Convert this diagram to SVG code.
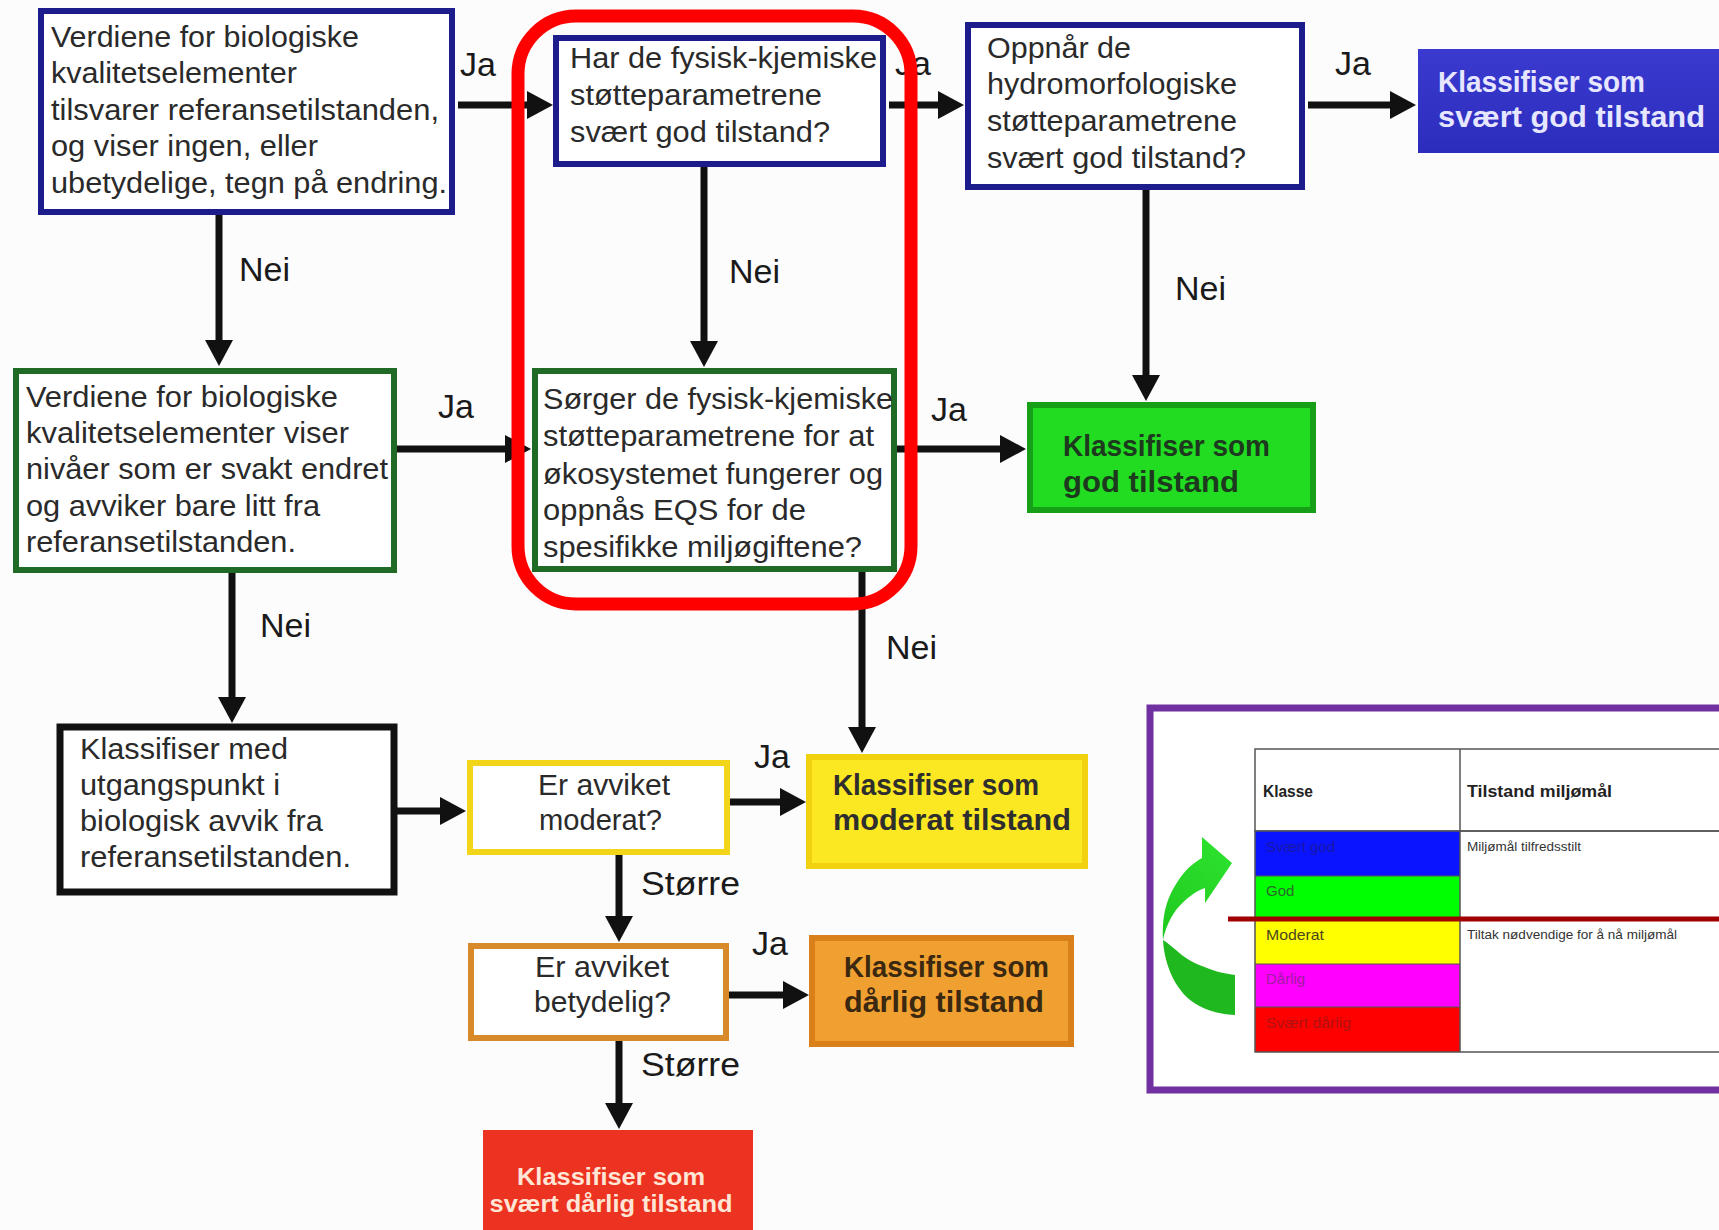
<svg xmlns="http://www.w3.org/2000/svg" width="1719" height="1230" viewBox="0 0 1719 1230">
<defs>
<style>
text{font-family:"Liberation Sans",Arial,sans-serif;}
.t{font-size:29px;fill:#2a2a2a;}
.tb{font-size:29px;font-weight:bold;}
.lbl{font-size:34px;fill:#1a1a1a;}
.navy{fill:#ffffff;stroke:#1c1c8c;stroke-width:6;}
.grn{fill:#ffffff;stroke:#1f6b25;stroke-width:6;}
.conn line{stroke:#111;stroke-width:7;marker-end:url(#ah);}
.tbl{font-size:15px;}
.small{font-size:12.5px;fill:#333;}
.hdr{font-size:16.5px;font-weight:bold;fill:#222;}
</style>
<marker id="ah" markerUnits="userSpaceOnUse" markerWidth="26" markerHeight="28" refX="8" refY="14" orient="auto">
<path d="M0,0 L26,14 L0,28 z" fill="#111"/>
</marker>
<linearGradient id="gArrowUp" x1="0" y1="1" x2="0.6" y2="0">
<stop offset="0" stop-color="#1ec81e"/>
<stop offset="1" stop-color="#2de02d"/>
</linearGradient>
<linearGradient id="gBlue" x1="0" y1="0" x2="0" y2="1">
<stop offset="0" stop-color="#3a3ad0"/>
<stop offset="1" stop-color="#2c2cbc"/>
</linearGradient>
</defs>
<rect x="0" y="0" width="1719" height="1230" fill="#fcfcfc"/>

<g id="connectors" class="conn">
<line x1="458" y1="105" x2="535" y2="105"/>
<line x1="889" y1="105" x2="946" y2="105"/>
<line x1="1308" y1="105" x2="1398" y2="105"/>
<line x1="219" y1="215" x2="219" y2="348"/>
<line x1="704" y1="167" x2="704" y2="349"/>
<line x1="1146" y1="190" x2="1146" y2="383"/>
<line x1="397" y1="449" x2="513" y2="449"/>
<line x1="897" y1="449" x2="1008" y2="449"/>
<line x1="232" y1="573" x2="232" y2="705"/>
<line x1="862" y1="572" x2="862" y2="735"/>
<line x1="397" y1="811" x2="448" y2="811"/>
<line x1="730" y1="802" x2="788" y2="802"/>
<line x1="619" y1="855" x2="619" y2="924"/>
<line x1="729" y1="995" x2="791" y2="995"/>
<line x1="619" y1="1041" x2="619" y2="1111"/>
</g>

<g id="labels">
<text class="lbl" x="460" y="76">Ja</text>
<text class="lbl" x="895" y="75">Ja</text>
<text class="lbl" x="1335" y="75">Ja</text>
<text class="lbl" x="239" y="281">Nei</text>
<text class="lbl" x="729" y="283">Nei</text>
<text class="lbl" x="1175" y="300">Nei</text>
<text class="lbl" x="438" y="418">Ja</text>
<text class="lbl" x="931" y="421">Ja</text>
<text class="lbl" x="260" y="637">Nei</text>
<text class="lbl" x="886" y="659">Nei</text>
<text class="lbl" x="754" y="768">Ja</text>
<text class="lbl" x="641" y="895" textLength="99" lengthAdjust="spacingAndGlyphs">Større</text>
<text class="lbl" x="752" y="955">Ja</text>
<text class="lbl" x="641" y="1076" textLength="99" lengthAdjust="spacingAndGlyphs">Større</text>
</g>

<g id="box1">
<rect class="navy" x="41" y="11" width="411" height="201"/>
<text class="t" x="51" y="47" textLength="308" lengthAdjust="spacingAndGlyphs">Verdiene for biologiske</text>
<text class="t" x="51" y="83" textLength="246" lengthAdjust="spacingAndGlyphs">kvalitetselementer</text>
<text class="t" x="51" y="120" textLength="388" lengthAdjust="spacingAndGlyphs">tilsvarer referansetilstanden,</text>
<text class="t" x="51" y="156" textLength="267" lengthAdjust="spacingAndGlyphs">og viser ingen, eller</text>
<text class="t" x="51" y="193" textLength="396" lengthAdjust="spacingAndGlyphs">ubetydelige, tegn på endring.</text>
</g>

<g id="box2">
<rect class="navy" x="556" y="38" width="327" height="126"/>
<text class="t" x="570" y="68" textLength="307" lengthAdjust="spacingAndGlyphs">Har de fysisk-kjemiske</text>
<text class="t" x="570" y="105" textLength="252" lengthAdjust="spacingAndGlyphs">støtteparametrene</text>
<text class="t" x="570" y="142" textLength="260" lengthAdjust="spacingAndGlyphs">svært god tilstand?</text>
</g>

<g id="box3">
<rect class="navy" x="968" y="25" width="334" height="162"/>
<text class="t" x="987" y="58" textLength="144" lengthAdjust="spacingAndGlyphs">Oppnår de</text>
<text class="t" x="987" y="94" textLength="250" lengthAdjust="spacingAndGlyphs">hydromorfologiske</text>
<text class="t" x="987" y="131" textLength="250" lengthAdjust="spacingAndGlyphs">støtteparametrene</text>
<text class="t" x="987" y="168" textLength="259" lengthAdjust="spacingAndGlyphs">svært god tilstand?</text>
</g>

<g id="result-svaert-god">
<rect x="1418" y="49" width="310" height="104" fill="url(#gBlue)"/>
<text class="tb" x="1438" y="92" fill="#e6e6ff" textLength="207" lengthAdjust="spacingAndGlyphs">Klassifiser som</text>
<text class="tb" x="1438" y="127" fill="#e6e6ff" textLength="267" lengthAdjust="spacingAndGlyphs">svært god tilstand</text>
</g>

<g id="box4">
<rect class="grn" x="16" y="371" width="378" height="199"/>
<text class="t" x="26" y="407" textLength="312" lengthAdjust="spacingAndGlyphs">Verdiene for biologiske</text>
<text class="t" x="26" y="443" textLength="323" lengthAdjust="spacingAndGlyphs">kvalitetselementer viser</text>
<text class="t" x="26" y="479" textLength="362" lengthAdjust="spacingAndGlyphs">nivåer som er svakt endret</text>
<text class="t" x="26" y="516" textLength="294" lengthAdjust="spacingAndGlyphs">og avviker bare litt fra</text>
<text class="t" x="26" y="552" textLength="270" lengthAdjust="spacingAndGlyphs">referansetilstanden.</text>
</g>

<g id="box5">
<rect class="grn" x="535" y="371" width="359" height="198"/>
<text class="t" x="543" y="409" textLength="350" lengthAdjust="spacingAndGlyphs">Sørger de fysisk-kjemiske</text>
<text class="t" x="543" y="446" textLength="331" lengthAdjust="spacingAndGlyphs">støtteparametrene for at</text>
<text class="t" x="543" y="484" textLength="340" lengthAdjust="spacingAndGlyphs">økosystemet fungerer og</text>
<text class="t" x="543" y="520" textLength="263" lengthAdjust="spacingAndGlyphs">oppnås EQS for de</text>
<text class="t" x="543" y="557" textLength="319" lengthAdjust="spacingAndGlyphs">spesifikke miljøgiftene?</text>
</g>

<g id="result-god">
<rect x="1030" y="405" width="283" height="105" fill="#22dc22" stroke="#17a017" stroke-width="6"/>
<text class="tb" x="1063" y="456" fill="#1e3a1e" textLength="207" lengthAdjust="spacingAndGlyphs">Klassifiser som</text>
<text class="tb" x="1063" y="492" fill="#1e3a1e" textLength="176" lengthAdjust="spacingAndGlyphs">god tilstand</text>
</g>

<g id="box6">
<rect x="60" y="727" width="334" height="165" fill="#ffffff" stroke="#111" stroke-width="7"/>
<text class="t" x="80" y="759" textLength="208" lengthAdjust="spacingAndGlyphs">Klassifiser med</text>
<text class="t" x="80" y="795" textLength="200" lengthAdjust="spacingAndGlyphs">utgangspunkt i</text>
<text class="t" x="80" y="831" textLength="243" lengthAdjust="spacingAndGlyphs">biologisk avvik fra</text>
<text class="t" x="80" y="867" textLength="271" lengthAdjust="spacingAndGlyphs">referansetilstanden.</text>
</g>

<g id="box7">
<rect x="470" y="763" width="257" height="89" fill="#ffffff" stroke="#f2d418" stroke-width="6"/>
<text class="t" x="538" y="795" textLength="132" lengthAdjust="spacingAndGlyphs">Er avviket</text>
<text class="t" x="539" y="830" textLength="123" lengthAdjust="spacingAndGlyphs">moderat?</text>
</g>

<g id="result-moderat">
<rect x="809" y="757" width="276" height="109" fill="#fbe823" stroke="#f2d20e" stroke-width="6"/>
<text class="tb" x="833" y="795" fill="#2e2e2e" textLength="206" lengthAdjust="spacingAndGlyphs">Klassifiser som</text>
<text class="tb" x="833" y="830" fill="#2e2e2e" textLength="238" lengthAdjust="spacingAndGlyphs">moderat tilstand</text>
</g>

<g id="box8">
<rect x="471" y="946" width="255" height="92" fill="#ffffff" stroke="#d8892a" stroke-width="6"/>
<text class="t" x="535" y="977" textLength="134" lengthAdjust="spacingAndGlyphs">Er avviket</text>
<text class="t" x="534" y="1012" textLength="137" lengthAdjust="spacingAndGlyphs">betydelig?</text>
</g>

<g id="result-darlig">
<rect x="812" y="938" width="259" height="106" fill="#f0a030" stroke="#d9801a" stroke-width="6"/>
<text class="tb" x="844" y="977" fill="#3a2810" textLength="205" lengthAdjust="spacingAndGlyphs">Klassifiser som</text>
<text class="tb" x="844" y="1012" fill="#3a2810" textLength="200" lengthAdjust="spacingAndGlyphs">dårlig tilstand</text>
</g>

<g id="result-svaert-darlig">
<rect x="483" y="1130" width="270" height="110" fill="#ec3220"/>
<text x="611" y="1185" text-anchor="middle" font-size="24" font-weight="bold" fill="#ffe6d6" textLength="188" lengthAdjust="spacingAndGlyphs">Klassifiser som</text>
<text x="611" y="1212" text-anchor="middle" font-size="24" font-weight="bold" fill="#ffe6d6" textLength="243" lengthAdjust="spacingAndGlyphs">svært dårlig tilstand</text>
</g>

<g id="highlight">
<rect x="518" y="16" width="393" height="588" rx="58" ry="58" fill="none" stroke="#ff0000" stroke-width="13"/>
</g>

<g id="legend">
<rect x="1150" y="708" width="600" height="382" fill="#ffffff" stroke="#7030a0" stroke-width="7"/>
<rect x="1255" y="749" width="480" height="82" fill="#ffffff" stroke="#555" stroke-width="1.5"/>
<rect x="1255" y="831" width="205" height="45" fill="#0a14ff"/>
<rect x="1255" y="876" width="205" height="43" fill="#00ff00"/>
<rect x="1255" y="919" width="205" height="45" fill="#ffff00"/>
<rect x="1255" y="964" width="205" height="43" fill="#ff00ff"/>
<rect x="1255" y="1007" width="205" height="45" fill="#ff0000"/>
<rect x="1255" y="831" width="480" height="221" fill="none" stroke="#555" stroke-width="1.5"/>
<line x1="1460" y1="749" x2="1460" y2="1052" stroke="#555" stroke-width="1.5"/>
<line x1="1255" y1="876" x2="1460" y2="876" stroke="#555" stroke-width="1"/>
<line x1="1255" y1="964" x2="1460" y2="964" stroke="#555" stroke-width="1"/>
<line x1="1255" y1="1007" x2="1460" y2="1007" stroke="#555" stroke-width="1"/>
<text class="hdr" x="1263" y="797" textLength="50" lengthAdjust="spacingAndGlyphs">Klasse</text>
<text class="hdr" x="1467" y="797" textLength="145" lengthAdjust="spacingAndGlyphs">Tilstand miljømål</text>
<text class="tbl" x="1266" y="852" fill="#1818a8" textLength="69" lengthAdjust="spacingAndGlyphs">Svært god</text>
<text class="tbl" x="1266" y="896" fill="#2a6a2a">God</text>
<text class="tbl" x="1266" y="940" fill="#4a4520" textLength="58" lengthAdjust="spacingAndGlyphs">Moderat</text>
<text class="tbl" x="1266" y="984" fill="#a01ca0">Dårlig</text>
<text class="tbl" x="1266" y="1028" fill="#b01212" textLength="85" lengthAdjust="spacingAndGlyphs">Svært dårlig</text>
<text class="small" x="1467" y="851" textLength="114" lengthAdjust="spacingAndGlyphs">Miljømål tilfredsstilt</text>
<text class="small" x="1467" y="939" textLength="210" lengthAdjust="spacingAndGlyphs">Tiltak nødvendige for å nå miljømål</text>
<line x1="1228" y1="919" x2="1719" y2="919" stroke="#a00000" stroke-width="5"/>
<path d="M1163,940 C1164,960 1172,985 1190,1000 C1202,1009 1216,1014 1235,1015 L1235,975 C1222,973 1214,971 1207,968 C1195,964 1183,957 1176,950 C1171,946 1168,943 1163,940 z" fill="#1fb81f"/>
<path d="M1163,940 C1162,915 1166,898 1180,878 C1187,868 1195,862 1202,858 L1202,837 L1232,863 L1205,903 L1205,888 C1196,891 1186,898 1176,910 C1169,920 1165,930 1163,940 z" fill="url(#gArrowUp)"/>
</g>
</svg>
